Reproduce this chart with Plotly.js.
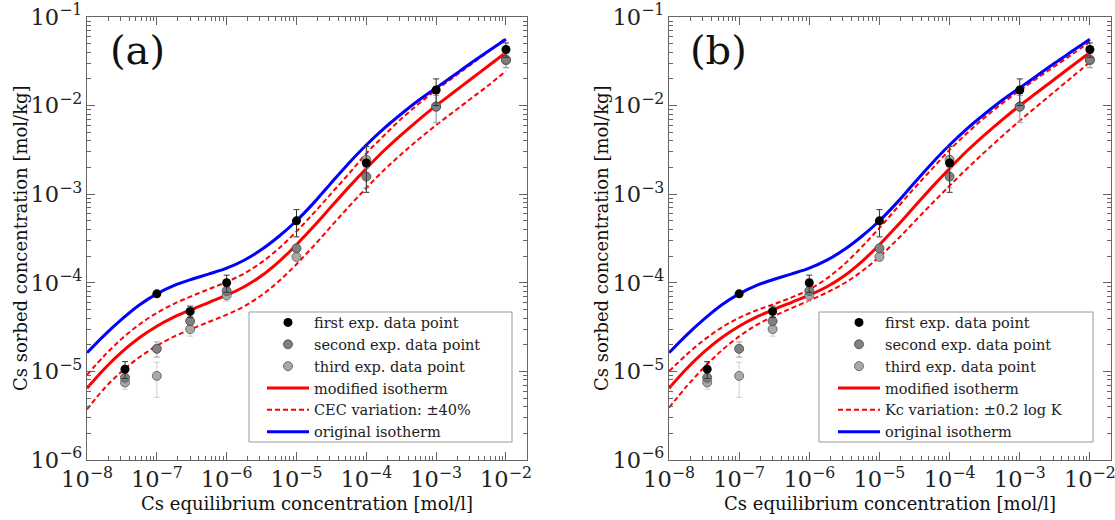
<!DOCTYPE html>
<html>
<head>
<meta charset="utf-8">
<script src="https://cdn.plot.ly/plotly-3.0.1.min.js"></script>
<style>
  html, body { margin: 0; padding: 0; background: #fff; }
  #chart { width: 1115px; height: 520px; }
</style>
</head>
<body>
<div id="chart"></div>
<script>
// Cs equilibrium concentration grid used for the isotherm curves [mol/l]
const csEq = [1e-8, 1.78e-8, 3.16e-8, 5.62e-8, 1e-7, 1.78e-7, 3.16e-7, 5.62e-7,
              1e-6, 1.78e-6, 3.16e-6, 5.62e-6, 1e-5, 1.78e-5, 3.16e-5, 5.62e-5,
              1e-4, 1.78e-4, 3.16e-4, 5.62e-4, 1e-3, 1.78e-3, 3.16e-3, 5.62e-3, 1e-2];

// Sorbed Cs [mol/kg] along csEq
const originalIsotherm = [1.622e-5, 2.570e-5, 3.890e-5, 5.623e-5, 7.50e-5, 9.333e-5, 1.096e-4, 1.259e-4,
                          1.462e-4, 1.799e-4, 2.371e-4, 3.350e-4, 5.012e-4, 8.035e-4, 1.349e-3, 2.239e-3,
                          3.589e-3, 5.495e-3, 8.035e-3, 1.148e-2, 1.585e-2, 2.188e-2, 3.020e-2, 4.121e-2, 5.623e-2];
const modifiedIsotherm = [6.457e-6, 1.072e-5, 1.660e-5, 2.399e-5, 3.236e-5, 4.121e-5, 5.012e-5, 6.026e-5,
                          7.244e-5, 9.016e-5, 1.202e-4, 1.738e-4, 2.692e-4, 4.365e-4, 7.244e-4, 1.202e-3,
                          1.950e-3, 3.090e-3, 4.677e-3, 6.918e-3, 1.000e-2, 1.413e-2, 1.995e-2, 2.818e-2, 3.981e-2];
const cecPlus = [9.120e-6, 1.514e-5, 2.344e-5, 3.388e-5, 4.571e-5, 5.821e-5, 7.079e-5, 8.511e-5,
                 1.023e-4, 1.274e-4, 1.698e-4, 2.455e-4, 3.802e-4, 6.166e-4, 1.023e-3, 1.698e-3,
                 2.884e-3, 4.571e-3, 7.079e-3, 1.047e-2, 1.496e-2, 2.089e-2, 2.917e-2, 4.074e-2, 5.821e-2];
const cecMinus = [3.715e-6, 6.457e-6, 1.000e-5, 1.445e-5, 1.950e-5, 2.483e-5, 3.020e-5, 3.631e-5,
                  4.365e-5, 5.433e-5, 7.244e-5, 1.047e-4, 1.622e-4, 2.630e-4, 4.365e-4, 7.244e-4,
                  1.175e-3, 1.862e-3, 2.818e-3, 4.169e-3, 6.026e-3, 8.511e-3, 1.202e-2, 1.698e-2, 2.455e-2];
const kcPlus = [1.000e-5, 1.549e-5, 2.265e-5, 3.126e-5, 4.027e-5, 4.898e-5, 5.754e-5, 6.839e-5,
                8.414e-5, 1.122e-4, 1.622e-4, 2.541e-4, 4.169e-4, 6.998e-4, 1.175e-3, 1.928e-3,
                3.162e-3, 4.898e-3, 7.328e-3, 1.059e-2, 1.479e-2, 2.042e-2, 2.786e-2, 3.802e-2, 5.248e-2];
const kcMinus = [3.890e-6, 6.761e-6, 1.109e-5, 1.718e-5, 2.483e-5, 3.350e-5, 4.217e-5, 5.188e-5,
                 6.310e-5, 7.762e-5, 9.886e-5, 1.349e-4, 1.972e-4, 3.055e-4, 4.898e-4, 7.852e-4,
                 1.245e-3, 1.950e-3, 2.985e-3, 4.519e-3, 6.761e-3, 9.886e-3, 1.445e-2, 2.113e-2, 3.090e-2];

// Experimental batch sorption data
const expConc   = [3.5e-8, 1e-7, 3e-7, 1e-6, 1e-5, 1e-4, 1e-3, 1e-2];
const firstExp  = [1.06e-5, 7.5e-5, 4.75e-5, 1.0e-4, 5.0e-4, 2.25e-3, 1.5e-2, 4.3e-2];
const firstErr  = [2.3e-6, 3e-6, 7e-6, 2.2e-5, 1.7e-4, 1.2e-3, 5e-3, 8e-3];
const secondExp = [8.5e-6, 1.8e-5, 3.7e-5, 8.1e-5, 2.45e-4, 1.58e-3, 9.7e-3, 3.3e-2];
const secondErr = [1.2e-6, 3.5e-6, 5e-6, 1e-5, 2e-5, 4e-4, 3.3e-3, 6e-3];
const thirdExp  = [7.5e-6, 8.9e-6, 3.0e-5, 7.2e-5, 1.96e-4, 2.45e-3, 9.8e-3, 3.25e-2];
const thirdErr  = [1.2e-6, 3.8e-6, 5e-6, 1e-5, 2e-5, 1e-3, 3.3e-3, 6e-3];

const panelTags = ['(a)', '(b)'];
const variationLabels = ['CEC variation: \u00b140%', 'Kc variation: \u00b10.2 log K'];
const xTitle = 'Cs equilibrium concentration [mol/l]';
const yTitle = 'Cs sorbed concentration [mol/kg]';

const SERIF = 'DejaVu Serif';
const W = 1115, H = 520, T = 17, B = 60;
const plotH = H - T - B;
const px = v => v / W;                 // horizontal pixel -> paper fraction
const py = v => (H - B - v) / plotH;   // vertical pixel (from top) -> paper fraction

function panelTraces(xa, ya, legendId, label, plus, minus) {
  const common = { xaxis: xa, yaxis: ya, legend: legendId };
  return [
    Object.assign({ x: csEq, y: plus, mode: 'lines', name: label, legendrank: 5,
      line: { color: '#ff0000', width: 2, dash: '5px,3px', shape: 'spline', smoothing: 1 } }, common),
    Object.assign({ x: csEq, y: minus, mode: 'lines', showlegend: false,
      line: { color: '#ff0000', width: 2, dash: '5px,3px', shape: 'spline', smoothing: 1 } }, common),
    Object.assign({ x: csEq, y: modifiedIsotherm, mode: 'lines', name: 'modified isotherm', legendrank: 4,
      line: { color: '#ff0000', width: 3, shape: 'spline', smoothing: 1 } }, common),
    Object.assign({ x: csEq, y: originalIsotherm, mode: 'lines', name: 'original isotherm', legendrank: 6,
      line: { color: '#0000ff', width: 3, shape: 'spline', smoothing: 1 } }, common),
    Object.assign({ x: expConc, y: thirdExp, mode: 'markers', name: 'third exp. data point', legendrank: 3,
      marker: { color: '#a9a9a9', size: 9, line: { color: '#555', width: 0.8 } },
      error_y: { type: 'data', array: thirdErr, color: '#cfcfcf', thickness: 1, width: 3 } }, common),
    Object.assign({ x: expConc, y: secondExp, mode: 'markers', name: 'second exp. data point', legendrank: 2,
      marker: { color: '#808080', size: 9, line: { color: '#444', width: 0.8 } },
      error_y: { type: 'data', array: secondErr, color: '#a0a0a0', thickness: 1, width: 3 } }, common),
    Object.assign({ x: expConc, y: firstExp, mode: 'markers', name: 'first exp. data point', legendrank: 1,
      marker: { color: '#000000', size: 9 },
      error_y: { type: 'data', array: firstErr, color: '#333', thickness: 1, width: 3 } }, common)
  ];
}

const traces = [].concat(
  panelTraces('x', 'y', 'legend', variationLabels[0], cecPlus, cecMinus),
  panelTraces('x2', 'y2', 'legend2', variationLabels[1], kcPlus, kcMinus)
);

function xAxis(domain) {
  return {
    type: 'log', domain: domain, range: [-8, -1.699], dtick: 1,
    exponentformat: 'power', showexponent: 'all', ticklabeloverflow: 'allow',
    showgrid: false, zeroline: false,
    showline: true, linecolor: '#666', linewidth: 1, mirror: 'ticks',
    ticks: 'inside', ticklen: 8, tickwidth: 1, tickcolor: '#666',
    minor: { ticks: 'inside', ticklen: 4, tickcolor: '#666', dtick: 'D1', showgrid: false },
    tickfont: { family: SERIF, size: 18, color: '#222' }
  };
}
function yAxis(anchor) {
  return {
    type: 'log', anchor: anchor, range: [-6, -1], dtick: 1,
    exponentformat: 'power', showexponent: 'all', ticklabeloverflow: 'allow',
    showgrid: false, zeroline: false,
    showline: true, linecolor: '#666', linewidth: 1, mirror: 'ticks',
    ticks: 'inside', ticklen: 8, tickwidth: 1, tickcolor: '#666',
    minor: { ticks: 'inside', ticklen: 4, tickcolor: '#666', dtick: 'D1', showgrid: false },
    tickfont: { family: SERIF, size: 18, color: '#222' }
  };
}
function legendAt(leftPx) {
  return {
    x: px(leftPx), y: py(306.5), xanchor: 'left', yanchor: 'top',
    xref: 'paper', yref: 'paper',
    bgcolor: 'rgba(0,0,0,0)', borderwidth: 0,
    font: { family: SERIF, size: 14.5, color: '#222' },
    tracegroupgap: 0, itemwidth: 42
  };
}
function legendFrame(x0, x1) {
  return { type: 'rect', xref: 'paper', yref: 'paper', layer: 'above',
    x0: px(x0), x1: px(x1), y0: py(442), y1: py(312),
    fillcolor: '#ffffff', line: { color: '#999', width: 1 } };
}
function label(text, x, y, size, angle) {
  return { text: text, xref: 'paper', yref: 'paper', x: px(x), y: py(y),
    xanchor: 'center', yanchor: 'middle', showarrow: false, textangle: angle || 0,
    font: { family: SERIF, size: size, color: '#111' } };
}

const layout = {
  width: W, height: H,
  margin: { l: 0, r: 0, t: T, b: B },
  paper_bgcolor: '#ffffff', plot_bgcolor: '#ffffff',
  showlegend: true,
  xaxis: xAxis([px(87), px(527)]),
  yaxis: yAxis('x'),
  xaxis2: xAxis([px(669), px(1111)]),
  yaxis2: yAxis('x2'),
  legend: legendAt(262),
  legend2: legendAt(833),
  shapes: [legendFrame(249, 512), legendFrame(819, 1093)],
  annotations: [
    label(panelTags[0], 137, 50, 40),
    label(panelTags[1], 718, 50, 40),
    label(xTitle, 307, 503, 18),
    label(xTitle, 890, 503, 18),
    label(yTitle, 20, 238, 18, -90),
    label(yTitle, 601, 238, 18, -90)
  ]
};

Plotly.newPlot('chart', traces, layout, { displayModeBar: false, staticPlot: true });
</script>
</body>
</html>
